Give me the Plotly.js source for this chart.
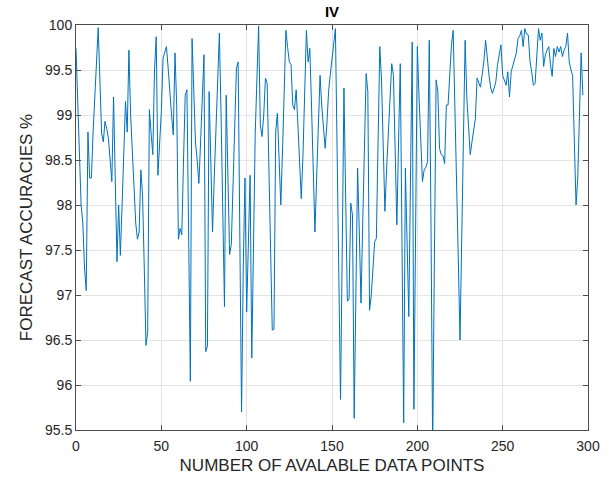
<!DOCTYPE html>
<html>
<head>
<meta charset="utf-8">
<script src="https://cdn.plot.ly/plotly-3.0.1.min.js"></script>
<style>html,body{margin:0;padding:0;background:#fff;}#chart{width:611px;height:484px;}</style>
</head>
<body>
<div id="chart"></div>
<script>
// Forecast accuracy (%) for each data-point index 0..297
const accuracy = [
  99.74, 99.15, 98.6, 98.0, 97.8, 97.3, 97.05, 98.81, 98.3, 98.3,
  98.8, 99.2, 99.6, 99.97, 99.4, 98.8, 98.7, 98.93, 98.85, 98.74,
  98.5, 98.26, 99.2, 98.3, 97.37, 98.0, 97.44, 98.0, 98.6, 99.15,
  98.81, 99.72, 99.0, 98.6, 98.1, 97.8, 97.62, 97.7, 98.39, 98.11,
  97.3, 96.44, 96.59, 99.06, 98.8, 98.56, 99.5, 99.87, 98.33, 98.7,
  99.04, 99.63, 99.7, 99.76, 99.52, 99.19, 99.0, 98.78, 99.69, 99.11,
  97.62, 97.74, 97.67, 98.5, 99.22, 99.28, 97.8, 96.04, 99.85, 99.3,
  98.7, 98.5, 98.24, 98.7, 99.2, 99.67, 96.37, 96.43, 99.26, 98.5,
  97.7, 98.3, 98.9, 99.5, 99.91, 99.0, 97.9, 96.87, 99.22, 98.3,
  97.45, 97.56, 98.2, 98.9, 99.52, 99.59, 97.7, 95.70, 97.3, 98.3,
  96.81, 97.6, 98.33, 96.3, 97.5, 98.78, 99.4, 99.99, 98.89, 98.76,
  99.0, 99.41, 99.35, 98.4, 97.5, 96.61, 96.62, 98.81, 99.02, 98.5,
  98.0, 98.6, 99.3, 99.94, 99.75, 99.59, 99.56, 99.11, 99.06, 99.28,
  98.9, 98.45, 98.07, 98.56, 99.3, 99.94, 99.59, 99.74, 99.1, 98.4,
  97.7, 98.3, 98.9, 99.44, 99.1, 98.85, 98.63, 98.9, 99.26, 99.45,
  99.63, 99.8, 99.96, 98.6, 97.2, 95.84, 97.5, 99.3, 98.1, 96.93,
  96.96, 98.02, 97.89, 95.63, 97.0, 98.41, 97.7, 96.91, 97.8, 98.7,
  99.46, 99.26, 96.83, 97.0, 97.3, 97.59, 97.63, 98.7, 99.76, 99.4,
  98.7, 97.93, 98.4, 98.8, 99.2, 99.57, 99.44, 98.6, 97.78, 98.7,
  99.57, 97.6, 95.58, 98.41, 97.6, 96.76, 98.3, 99.81, 95.73, 97.7,
  99.76, 99.2, 98.7, 98.26, 98.39, 98.42, 98.48, 99.83, 97.8, 95.3,
  97.4, 99.39, 99.26, 98.63, 98.56, 98.55, 98.46, 99.11, 99.11, 99.45,
  99.78, 99.94, 99.2, 98.3, 97.4, 96.5, 97.6, 98.8, 99.83, 99.19,
  98.9, 98.56, 98.7, 98.85, 98.96, 99.41, 99.35, 99.31, 99.45, 99.6,
  99.83, 99.6, 99.44, 99.3, 99.24, 99.3, 99.37, 99.56, 99.65, 99.78,
  99.44, 99.38, 99.33, 99.48, 99.2, 99.48, 99.55, 99.65, 99.69, 99.85,
  99.88, 99.94, 99.76, 99.96, 99.9, 99.89, 99.6, 99.48, 99.33, 99.35,
  99.65, 99.96, 99.83, 99.91, 99.54, 99.67, 99.72, 99.76, 99.56, 99.43,
  99.74, 99.65, 99.76, 99.7, 99.76, 99.65, 99.72, 99.76, 99.91, 99.59,
  99.5, 99.44, 98.7, 98.0, 98.3, 99.19, 99.69, 99.22
];
const dataPoints = accuracy.map((_, i) => i);

const xTicks = [0, 50, 100, 150, 200, 250, 300];
const yTicks = [95.5, 96, 96.5, 97, 97.5, 98, 98.5, 99, 99.5, 100];
const yTickText = ['95.5', '96', '96.5', '97', '97.5', '98', '98.5', '99', '99.5', '100'];

const titleText = 'IV';
const xLabel = 'NUMBER OF AVALABLE DATA POINTS';
const yLabel = 'FORECAST ACCURACIES %';

const FONT = 'Arial, "Liberation Sans", Helvetica, sans-serif';
const AX = '#4d4d4d';
const TXT = '#262626';
const GRID = '#e3e3e3';

const trace = {
  x: dataPoints,
  y: accuracy,
  type: 'scatter',
  mode: 'lines',
  line: {color: '#0072BD', width: 1},
  hoverinfo: 'x+y'
};

const axisCommon = {
  showline: true, linecolor: AX, linewidth: 1,
  mirror: 'ticks', ticks: 'inside', ticklen: 5, tickcolor: AX, tickwidth: 1,
  showgrid: true, gridcolor: GRID, gridwidth: 1,
  zeroline: false,
  tickfont: {family: FONT, size: 14, color: TXT}
};

const layout = {
  width: 611, height: 484,
  margin: {l: 76, r: 23, t: 25, b: 54, pad: 0},
  paper_bgcolor: '#ffffff', plot_bgcolor: '#ffffff',
  showlegend: false,
  title: {
    text: '<b>' + titleText + '</b>',
    xref: 'paper', x: 0.5, xanchor: 'center',
    yref: 'container', y: 1 - 11.5 / 484, yanchor: 'middle',
    font: {family: FONT, size: 15, color: '#000000'}
  },
  xaxis: Object.assign({}, axisCommon, {
    range: [0, 300],
    tickmode: 'array', tickvals: xTicks, ticktext: xTicks.map(String),
    ticklabelstandoff: 3,
    title: {text: xLabel, font: {family: FONT, size: 17, color: TXT}, standoff: 6}
  }),
  yaxis: Object.assign({}, axisCommon, {
    range: [95.5, 100],
    tickmode: 'array', tickvals: yTicks, ticktext: yTickText,
    title: {text: yLabel, font: {family: FONT, size: 17, color: TXT}, standoff: 8}
  })
};

Plotly.newPlot('chart', [trace], layout, {displayModeBar: false, staticPlot: true});
</script>
</body>
</html>
